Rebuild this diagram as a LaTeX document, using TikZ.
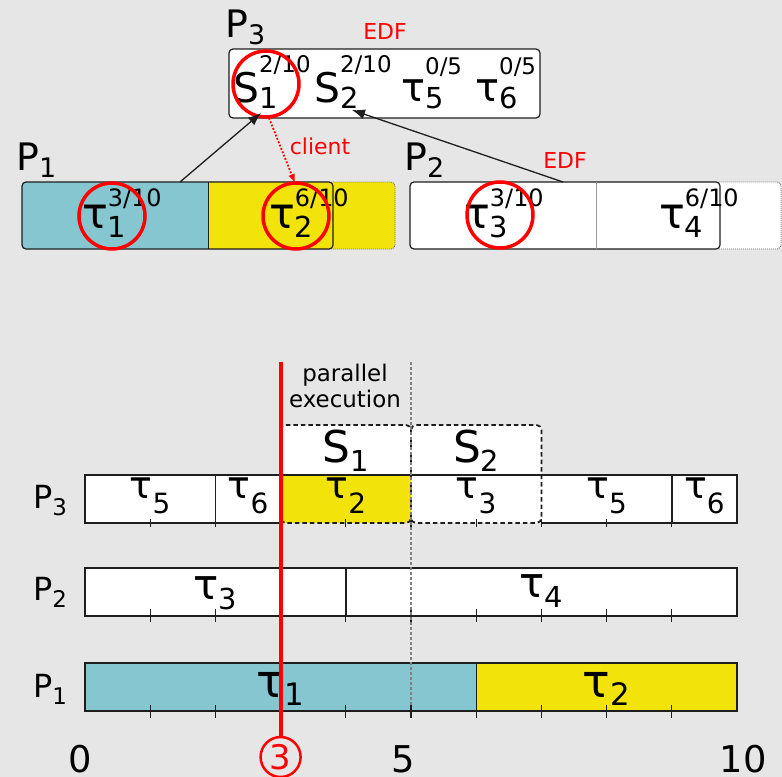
\documentclass[tikz,border=0pt]{standalone}
\usepackage{fontspec}
\setmainfont{DejaVu Sans}
\usetikzlibrary{arrows.meta}
\definecolor{bg}{HTML}{E6E6E6}
\definecolor{cy}{HTML}{85C6D0}
\definecolor{yl}{HTML}{F2E30A}
\definecolor{ln}{HTML}{1E1E1E}
\newcommand\fs[2]{{\fontsize{#1}{#1}\selectfont #2}}
\newcommand\fsz[1]{\fontsize{#1}{#1}\selectfont}
% main, sub, sup, mainsize, subsize, supsize, lower, raise
\newcommand\tripl[8]{\fs{#4}{#1}\makebox[0pt][l]{\raisebox{-#7bp}{\fs{#5}{#2}}}\raisebox{#8bp}{\fs{#6}{#3}}}
\newcommand\dupl[5]{\fs{#3}{#1}\raisebox{-#5bp}{\fs{#4}{#2}}}
\tikzset{
  lbl/.style={inner sep=0pt, anchor=base west},
  clbl/.style={inner sep=0pt, anchor=base},
  topbox/.style={draw=ln, line width=1.2bp, rounded corners=4bp, inner sep=0pt},
  extbox/.style={draw=black!55, line width=0.9bp, dash pattern=on 1bp off 1bp, rounded corners=4bp},
  ring/.style={circle, draw=red, line width=3.5bp, minimum size=66bp, inner sep=0pt},
  conn/.style={draw=ln, line width=1.3bp, -{Latex[length=13bp,width=10bp]}},
  rowline/.style={draw=ln, line width=1.4bp},
  tickmark/.style={draw=ln, line width=1.2bp},
  sbox/.style={draw=ln, line width=1.8bp, dash pattern=on 4.5bp off 3bp, rounded corners=5bp},
  redtxt/.style={red, inner sep=0pt, font=\fsz{22}},
}
\begin{document}
\begin{tikzpicture}[x=1bp,y=-1bp]
\useasboundingbox (0,0) rectangle (782,777);
\fill[bg] (0,0) rectangle (782,777);

% ---------- top part ----------
\node[topbox, fill=white, minimum width=311bp, minimum height=69bp] (p3box) at (384.5,83.5) {};
\node[lbl] (P3t) at (225,38) {\dupl{P}{3}{38}{27}{7}};
\node[redtxt] (edf1) at (385,32) {EDF};
\node[lbl] (s1) at (233,102) {\tripl{S}{1}{2/10}{41}{29}{23}{6}{29}};
\node[lbl] (s2) at (314,102) {\tripl{S}{2}{2/10}{41}{29}{23}{6}{29}};
\node[lbl] (t5top) at (401,101) {\tripl{τ}{5}{0/5}{40}{29}{23}{7}{26}};
\node[lbl] (t6top) at (475,101) {\tripl{τ}{6}{0/5}{40}{29}{23}{7}{26}};

% P1 box
\fill[yl, rounded corners=4bp] (208,182) rectangle (395,249);
\draw[extbox] (208,182) rectangle (395,249);
\fill[cy, rounded corners=4bp] (22,182) rectangle (333,249);
\fill[yl] (208,182) rectangle (333,249);
\node[topbox, minimum width=311bp, minimum height=67bp] (p1box) at (177.5,215.5) {};
\draw[ln, line width=1bp] (208,182) -- (208,249);
\node[lbl] (P1t) at (16,170) {\dupl{P}{1}{38}{27}{7}};
\node[lbl] (t1top) at (82,228) {\tripl{τ}{1}{3/10}{43}{29}{24}{9}{22}};
\node[lbl] (t2top) at (269,228) {\tripl{τ}{2}{6/10}{43}{29}{24}{9}{22}};

% P2 box
\fill[white, rounded corners=4bp] (596,182) rectangle (781,249);
\draw[extbox] (596,182) rectangle (781,249);
\node[topbox, fill=white, minimum width=310bp, minimum height=67bp] (p2box) at (565,215.5) {};
\draw[gray!80, line width=1bp] (596,182) -- (596,249);
\node[lbl] (P2t) at (404,170) {\dupl{P}{2}{38}{27}{7}};
\node[redtxt] (edf2) at (565,161) {EDF};
\node[lbl] (t3top) at (464,228) {\tripl{τ}{3}{3/10}{43}{29}{24}{9}{22}};
\node[lbl] (t4top) at (659,228) {\tripl{τ}{4}{6/10}{43}{29}{24}{9}{22}};

% rings
\node[ring] (r1) at (266,84) {};
\node[ring] (r2) at (112,216) {};
\node[ring] (r3) at (296,216) {};
\node[ring] (r4) at (500,215) {};

% connectors
\coordinate (a1s) at (180,182); \coordinate (a1e) at (261,113);
\coordinate (a2s) at (563,182); \coordinate (a2e) at (352,110);
\coordinate (a3s) at (269,118); \coordinate (a3e) at (295,183);
\draw[conn] (a1s) -- (a1e);
\draw[conn] (a2s) -- (a2e);
\draw[red, line width=1.8bp, dash pattern=on 1.8bp off 1.8bp, -{Latex[length=9bp,width=7bp]}] (a3s) -- (a3e);
\node[redtxt] (client) at (320,146) {client};

% ---------- timeline ----------
\begin{scope}[shift={(85,0)}, x=65.2bp]
  % server boxes fill
  \fill[white, rounded corners=5bp] (3,425) rectangle (5,523);
  \fill[white, rounded corners=5bp] (5,425) rectangle (7,523);
  % P3 row
  \fill[white] (0,475) rectangle (10,523);
  \fill[yl] (3,475) rectangle (5,523);
  \draw[rowline] (3,523) -- (0,523) -- (0,475) -- (10,475) -- (10,523) -- (7,523);
  \draw[rowline] (2,475) -- (2,523);
  \draw[rowline] (9,475) -- (9,523);
  % P2 row
  \draw[rowline, fill=white] (0,568) rectangle (10,616);
  \draw[draw=ln, line width=2bp] (4,568) -- (4,616);
  % P1 row
  \fill[cy] (0,663) rectangle (6,711);
  \fill[yl] (6,663) rectangle (10,711);
  \draw[rowline] (0,663) rectangle (10,711);
  \draw[rowline] (6,663) -- (6,711);
  % ticks
  \foreach \t in {1,...,9} {
    \draw[tickmark] (\t,519) -- (\t,527);
    \draw[tickmark] (\t,609) -- (\t,622);
    \draw[tickmark] (\t,705) -- (\t,718);
  }
  % dashed server boxes
  \draw[sbox] (3,425) rectangle (5,523);
  \draw[sbox] (5,425) rectangle (7,523);
  \node[clbl] (S1l) at (4,462) {\dupl{S}{1}{44}{29}{9}};
  \node[clbl] (S2l) at (6,462) {\dupl{S}{2}{44}{29}{9}};
  % task labels
  \node[clbl] (l35a) at (1,498) {\dupl{τ}{5}{38}{28}{15}};
  \node[clbl] (l36a) at (2.5,498) {\dupl{τ}{6}{38}{28}{15}};
  \node[clbl] (l32) at (4,498) {\dupl{τ}{2}{38}{28}{15}};
  \node[clbl] (l33) at (6,498) {\dupl{τ}{3}{38}{28}{15}};
  \node[clbl] (l35b) at (8,498) {\dupl{τ}{5}{38}{28}{15}};
  \node[clbl] (l36b) at (9.5,498) {\dupl{τ}{6}{38}{28}{15}};
  \node[clbl] (l23) at (2,599) {\dupl{τ}{3}{42}{29}{10}};
  \node[clbl] (l24) at (7,597) {\dupl{τ}{4}{42}{29}{10}};
  \node[clbl] (l11) at (3,697) {\dupl{τ}{1}{46}{31}{8}};
  \node[clbl] (l12) at (8,697) {\dupl{τ}{2}{46}{31}{8}};
  % markers
  \draw[black!50, line width=2.8bp, dash pattern=on 2.5bp off 2.5bp] (5,362) -- (5,706);
  \node[circle, draw=red, line width=2.5bp, minimum size=40bp, inner sep=0pt, text=red, font=\fsz{34}] (c3) at (3,757) {3};
  \draw[red, line width=4bp] (3,362) -- (c3.north);
\end{scope}

\node[inner sep=0pt, anchor=north, align=center, font=\fontsize{23}{26}\selectfont] (par) at (345,364) {parallel\\execution};
\node[lbl] (P3b) at (33,508) {\dupl{P}{3}{32}{23}{7}};
\node[lbl] (P2b) at (33,600) {\dupl{P}{2}{32}{23}{7}};
\node[lbl] (P1b) at (33,697) {\dupl{P}{1}{32}{23}{7}};
\node[clbl, font=\fsz{37}] (ax0) at (80,772) {0};
\node[clbl, font=\fsz{37}] (ax5) at (403,772) {5};
\node[clbl, font=\fsz{37}] (ax10) at (743,772) {10};
\end{tikzpicture}
\end{document}
